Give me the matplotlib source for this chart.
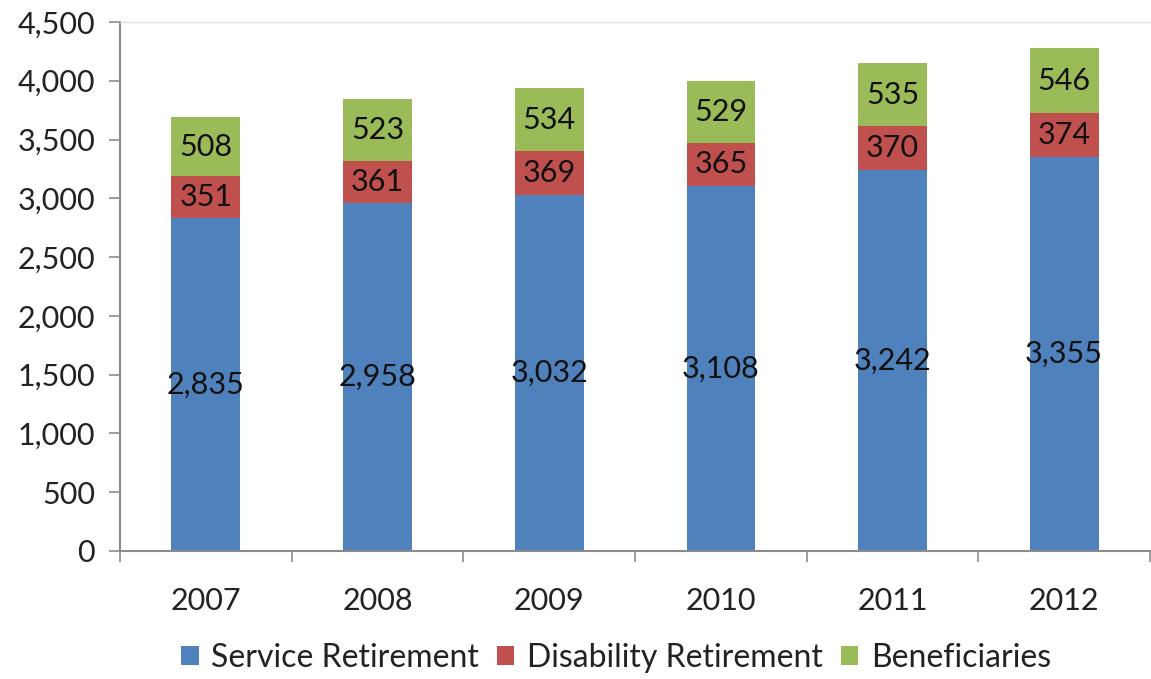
import matplotlib
matplotlib.use("Agg")
import matplotlib.pyplot as plt
import numpy as np

years = ["2007", "2008", "2009", "2010", "2011", "2012"]
service = [2835, 2958, 3032, 3108, 3242, 3355]
disability = [351, 361, 369, 365, 370, 374]
beneficiaries = [508, 523, 534, 529, 535, 546]
series_names = ["Service Retirement", "Disability Retirement", "Beneficiaries"]
colors = ["#4F81BD", "#C0504D", "#9BBB59"]

plt.rcParams['font.family'] = ['Lato', 'DejaVu Sans']

fig = plt.figure(figsize=(11.51, 6.79), dpi=100)
ax = fig.add_axes([120/1151, 1-551/679, 1030/1151, 529/679])

x = np.arange(len(years))
width = 0.40
bottom = np.zeros(len(years))
for vals, name, c in zip([service, disability, beneficiaries], series_names, colors):
    vals = np.array(vals)
    ax.bar(x, vals, width, bottom=bottom, color=c, label=name, edgecolor='none')
    for xi, b, v in zip(x, bottom, vals):
        ax.text(xi, b + v/2, f"{v:,}", ha='center', va='center', fontsize=22, color='#111111')
    bottom = bottom + vals

ax.set_xlim(-0.5, len(years) - 0.5)
ax.set_ylim(0, 4500)
ax.set_yticks(np.arange(0, 4501, 500))
ax.set_yticklabels([f"{v:,}" for v in range(0, 4501, 500)], fontsize=22, color='#222222')
ax.set_xticks(x)
ax.set_xticklabels(years, fontsize=22, color='#222222')
ax.set_xticks(np.arange(-0.5, len(years)), minor=True)
ax.tick_params(axis='x', which='major', length=0, pad=26)
ax.tick_params(axis='x', which='minor', length=8, width=1.2, color='#8c8c8c')
ax.tick_params(axis='y', length=8, width=1.2, color='#8c8c8c', pad=10)

for s in ['left', 'bottom']:
    ax.spines[s].set_color('#8c8c8c')
    ax.spines[s].set_linewidth(1.5)
ax.spines['top'].set_color('#e0e0e0')
ax.spines['top'].set_linewidth(1)
ax.spines['right'].set_visible(False)

leg = fig.legend(loc='center', bbox_to_anchor=(616/1151, 1-658/679), ncol=3, frameon=False,
                 fontsize=23, handlelength=0.55, handleheight=0.55, handletextpad=0.4,
                 columnspacing=0.55)
for t in leg.get_texts():
    t.set_color('#222222')

fig.savefig("out.png", dpi=100)
